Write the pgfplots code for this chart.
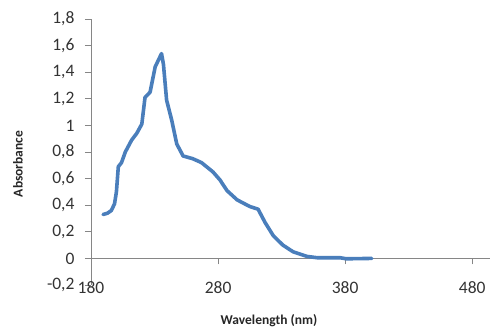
\documentclass[border=0pt]{standalone}
\usepackage{fontspec}
\setmainfont{Carlito}
\usepackage{pgfplots}
\pgfplotsset{compat=1.18}
\definecolor{axisgray}{HTML}{868686}
\definecolor{linecol}{HTML}{4A7EBB}
\begin{document}
\begin{tikzpicture}
\begin{axis}[
  scale only axis,
  width=399pt, height=266pt,
  xmin=180, xmax=494,
  ymin=-0.2, ymax=1.8,
  axis x line*=middle,
  axis y line*=left,
  hide obscured x ticks=false,
  hide obscured y ticks=false,
  axis line style={axisgray, line width=0.8pt},
  xtick={180,280,380,480},
  ytick={-0.2,0,0.2,0.4,0.6,0.8,1,1.2,1.4,1.6,1.8},
  tick align=outside,
  major tick length=6pt,
  tick style={axisgray, line width=0.8pt},
  /pgf/number format/assume math mode=true,
  /pgf/number format/use comma,
  /pgf/number format/fixed,
  /pgf/number format/precision=1,
  xticklabel style={font=\fontsize{17.5}{20}\selectfont, text=black!80, yshift=-14pt},
  yticklabel style={font=\fontsize{17.5}{20}\selectfont, text=black!80, xshift=-7pt},
  scaled ticks=false,
  every axis y label/.style={at={(axis description cs:-0.183,0.455)}, anchor=center, rotate=90},
  every axis x label/.style={at={(axis description cs:0.446,-0.135)}, anchor=center},
  ylabel={\fontsize{13.5}{16}\selectfont\bfseries Absorbance},
  xlabel={\fontsize{13.5}{16}\selectfont\bfseries Wavelength (nm)},
  label style={text=black!85},
  clip=false,
]
\addplot[color=linecol, line width=3.6pt, line join=round, line cap=round] coordinates {
(189.5,0.33) (193,0.34) (196,0.36) (198.5,0.41) (200,0.5) (201.5,0.69)
(204,0.72) (207,0.80) (212,0.89) (216,0.94) (220,1.01) (222.5,1.21)
(226.5,1.25) (230.5,1.44) (233,1.49) (235.5,1.54) (237,1.46) (239.5,1.19)
(243.5,1.04) (247.5,0.86) (252.5,0.77) (260,0.75) (267,0.72) (276,0.65)
(281.5,0.59) (287,0.51) (295,0.44) (305,0.39) (311.5,0.37) (317,0.27)
(323.5,0.17) (331,0.10) (339,0.05) (350,0.015) (358,0.005) (376,0.005)
(381,-0.003) (401,0)
};
\end{axis}
\pgfresetboundingbox
\path[use as bounding box] ([shift={(-91pt,-42pt)}]current axis.south west) rectangle ([shift={(0pt,19pt)}]current axis.north east);
\end{tikzpicture}
\end{document}
